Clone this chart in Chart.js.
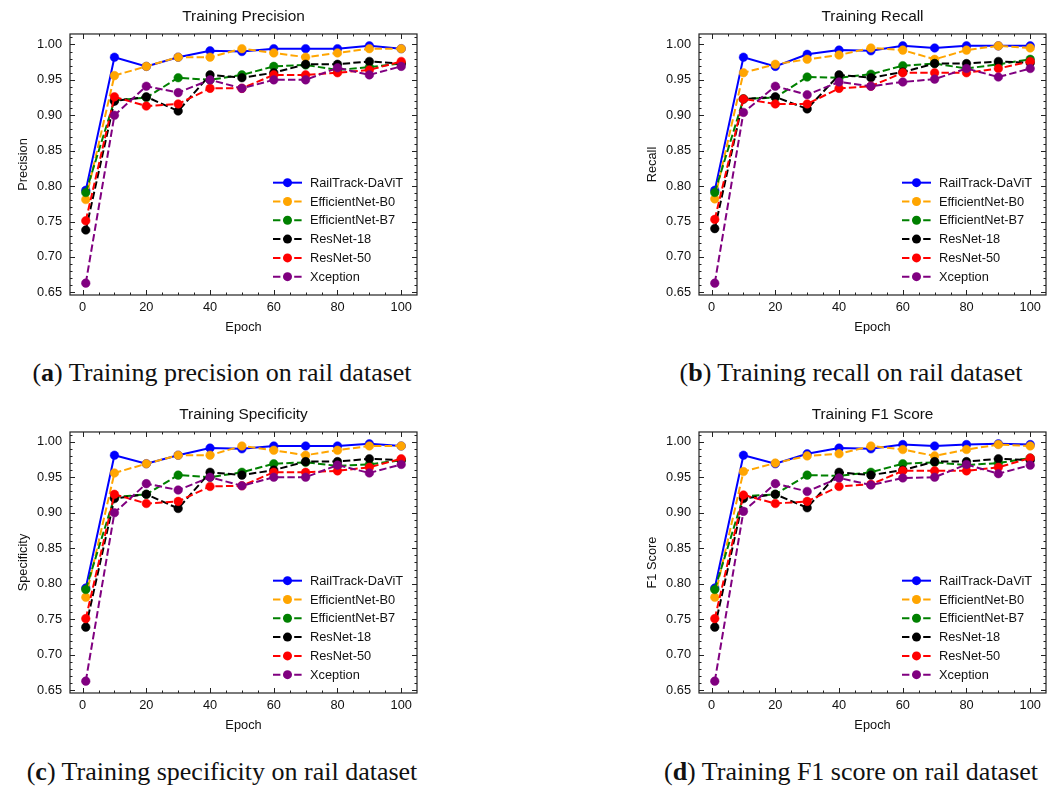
<!DOCTYPE html>
<html>
<head>
<meta charset="utf-8">
<title>Training metrics on rail dataset</title>
<script src="https://cdn.jsdelivr.net/npm/chart.js@4.4.1/dist/chart.umd.min.js"></script>
<style>
  body { margin: 0; background: #fff; width: 1057px; height: 787px; position: relative; overflow: hidden; }
  .panel { position: absolute; width: 440px; height: 340px; }
  .caption {
    position: absolute; transform: translateX(-50%); white-space: nowrap;
    font-family: "Liberation Serif", "Times New Roman", serif; font-size: 26px; line-height: 28px; color: #111;
  }
</style>
</head>
<body>
<div class="panel" style="left:0;top:0"><canvas id="precisionChart" width="440" height="340"></canvas></div>
<div class="panel" style="left:629px;top:0"><canvas id="recallChart" width="440" height="340"></canvas></div>
<div class="panel" style="left:0;top:398px"><canvas id="specificityChart" width="440" height="340"></canvas></div>
<div class="panel" style="left:629px;top:398px"><canvas id="f1Chart" width="440" height="340"></canvas></div>

<div class="caption" style="left:222px;top:359px">(<b>a</b>) Training precision on rail dataset</div>
<div class="caption" style="left:851px;top:359px">(<b>b</b>) Training recall on rail dataset</div>
<div class="caption" style="left:222px;top:758px">(<b>c</b>) Training specificity on rail dataset</div>
<div class="caption" style="left:851px;top:758px">(<b>d</b>) Training F1 score on rail dataset</div>

<script>
// epochs where metrics were logged
const epochs = [1, 10, 20, 30, 40, 50, 60, 70, 80, 90, 100];
const xTicks = [0, 20, 40, 60, 80, 100];
const yTicks = [0.65, 0.70, 0.75, 0.80, 0.85, 0.90, 0.95, 1.00];

const modelNames = ['RailTrack-DaViT', 'EfficientNet-B0', 'EfficientNet-B7', 'ResNet-18', 'ResNet-50', 'Xception'];
const modelColors = ['#0000ff', '#ffa500', '#008000', '#000000', '#ff0000', '#800080'];

// precision per model
const precisionDaViT = [0.794, 0.982, 0.969, 0.982, 0.991, 0.990, 0.994, 0.994, 0.994, 0.998, 0.994];
const precisionB0    = [0.781, 0.956, 0.969, 0.982, 0.982, 0.994, 0.988, 0.982, 0.988, 0.994, 0.994];
const precisionB7    = [0.791, 0.921, 0.925, 0.953, 0.950, 0.957, 0.969, 0.971, 0.964, 0.968, 0.973];
const precisionR18   = [0.738, 0.920, 0.926, 0.906, 0.957, 0.953, 0.960, 0.972, 0.972, 0.976, 0.973];
const precisionR50   = [0.751, 0.926, 0.913, 0.916, 0.938, 0.938, 0.957, 0.957, 0.960, 0.964, 0.976];
const precisionXcep  = [0.663, 0.900, 0.941, 0.932, 0.950, 0.938, 0.950, 0.950, 0.967, 0.957, 0.969];

// recall per model
const recallDaViT = [0.794, 0.982, 0.969, 0.986, 0.992, 0.991, 0.998, 0.995, 0.998, 0.998, 0.998];
const recallB0    = [0.782, 0.960, 0.972, 0.979, 0.985, 0.995, 0.992, 0.979, 0.992, 0.998, 0.995];
const recallB7    = [0.791, 0.923, 0.925, 0.954, 0.953, 0.958, 0.970, 0.973, 0.966, 0.972, 0.979];
const recallR18   = [0.740, 0.923, 0.926, 0.909, 0.957, 0.953, 0.961, 0.973, 0.973, 0.976, 0.974];
const recallR50   = [0.753, 0.923, 0.916, 0.916, 0.938, 0.941, 0.960, 0.960, 0.960, 0.966, 0.976];
const recallXcep  = [0.663, 0.904, 0.941, 0.929, 0.947, 0.941, 0.947, 0.951, 0.966, 0.954, 0.966];

// specificity per model
const specificityDaViT = [0.794, 0.981, 0.969, 0.981, 0.991, 0.990, 0.994, 0.994, 0.994, 0.997, 0.994];
const specificityB0    = [0.781, 0.956, 0.969, 0.981, 0.981, 0.994, 0.988, 0.981, 0.988, 0.994, 0.994];
const specificityB7    = [0.792, 0.922, 0.926, 0.953, 0.950, 0.957, 0.969, 0.971, 0.966, 0.968, 0.974];
const specificityR18   = [0.739, 0.920, 0.926, 0.906, 0.957, 0.953, 0.960, 0.972, 0.972, 0.976, 0.974];
const specificityR50   = [0.751, 0.926, 0.913, 0.916, 0.937, 0.938, 0.957, 0.957, 0.959, 0.964, 0.976];
const specificityXcep  = [0.663, 0.900, 0.941, 0.932, 0.950, 0.938, 0.950, 0.950, 0.967, 0.956, 0.968];

// F1 score per model
const f1DaViT = [0.794, 0.981, 0.969, 0.983, 0.991, 0.990, 0.996, 0.994, 0.996, 0.997, 0.996];
const f1B0    = [0.781, 0.958, 0.970, 0.980, 0.983, 0.994, 0.989, 0.980, 0.989, 0.996, 0.994];
const f1B7    = [0.792, 0.923, 0.926, 0.953, 0.952, 0.957, 0.969, 0.971, 0.967, 0.970, 0.977];
const f1R18   = [0.739, 0.920, 0.926, 0.907, 0.957, 0.953, 0.960, 0.972, 0.972, 0.976, 0.974];
const f1R50   = [0.751, 0.925, 0.913, 0.916, 0.937, 0.940, 0.959, 0.959, 0.959, 0.964, 0.977];
const f1Xcep  = [0.663, 0.902, 0.941, 0.930, 0.949, 0.939, 0.949, 0.950, 0.968, 0.955, 0.967];

Chart.defaults.font.family = '"Liberation Sans", Arial, sans-serif';
Chart.defaults.font.size = 12.8;
Chart.defaults.color = '#111';

// box around the plot with inward major/minor ticks on every side
const frameTicks = {
  id: 'frameTicks',
  afterDraw(chart) {
    const { ctx, chartArea: a, scales: { x, y } } = chart;
    ctx.save();
    ctx.strokeStyle = '#222';
    ctx.lineWidth = 1;
    ctx.beginPath();
    for (let v = 0; v <= 100; v += 5) {
      const px = Math.round(x.getPixelForValue(v)) + 0.5;
      const len = v % 20 === 0 ? 5 : 2.5;
      ctx.moveTo(px, a.bottom); ctx.lineTo(px, a.bottom - len);
      ctx.moveTo(px, a.top); ctx.lineTo(px, a.top + len);
    }
    for (let k = 60; k <= 102; k++) {
      const v = k / 100;
      if (v < y.min || v > y.max) continue;
      const py = Math.round(y.getPixelForValue(v)) + 0.5;
      const len = k % 5 === 0 ? 5 : 2.5;
      ctx.moveTo(a.left, py); ctx.lineTo(a.left + len, py);
      ctx.moveTo(a.right, py); ctx.lineTo(a.right - len, py);
    }
    ctx.stroke();
    ctx.lineWidth = 1.2;
    ctx.strokeRect(a.left, a.top, a.right - a.left, a.bottom - a.top);
    ctx.restore();
  }
};

// legend drawn as line + marker samples, like the plotted series
const lineLegend = {
  id: 'lineLegend',
  afterDraw(chart) {
    const { ctx, chartArea: a } = chart;
    const x0 = a.right - 144, x1 = a.right - 115, tx = a.right - 107;
    ctx.save();
    ctx.font = '12.8px "Liberation Sans", Arial, sans-serif';
    ctx.textBaseline = 'middle';
    chart.data.datasets.forEach((ds, i) => {
      const yy = a.top + 148.7 + i * 18.8;
      ctx.strokeStyle = ds.borderColor;
      ctx.lineWidth = ds.borderWidth;
      ctx.setLineDash(ds.borderDash || []);
      ctx.beginPath();
      ctx.moveTo(x0, yy); ctx.lineTo(x1, yy);
      ctx.stroke();
      ctx.setLineDash([]);
      ctx.fillStyle = ds.borderColor;
      ctx.beginPath();
      ctx.arc((x0 + x1) / 2, yy, 4.5, 0, Math.PI * 2);
      ctx.fill();
      ctx.fillStyle = '#111';
      ctx.fillText(ds.label, tx, yy + 0.5);
    });
    ctx.restore();
  }
};

function makeChart(id, title, yLabel, series) {
  const all = series.flat();
  const lo = Math.min(...all), hi = Math.max(...all);
  const pad = (hi - lo) * 0.05;
  return new Chart(document.getElementById(id), {
    type: 'line',
    data: {
      datasets: series.map((vals, i) => ({
        label: modelNames[i],
        data: vals.map((v, j) => ({ x: epochs[j], y: v })),
        borderColor: modelColors[i],
        backgroundColor: modelColors[i],
        borderWidth: 2,
        borderDash: i === 0 ? [] : [7.4, 3.2],
        pointRadius: 4.3,
        pointBorderWidth: 0.5,
        pointBorderColor: modelColors[i],
        pointBackgroundColor: modelColors[i],
        tension: 0,
        order: series.length - i
      }))
    },
    options: {
      responsive: false,
      animation: false,
      layout: { padding: { left: 0, right: 23, top: 0, bottom: 0 } },
      plugins: {
        legend: { display: false },
        tooltip: { enabled: false },
        title: {
          display: true, text: title, fullSize: false, color: '#111',
          font: { size: 15.4, weight: 'normal' },
          padding: { top: 8, bottom: 7.5 }
        }
      },
      scales: {
        x: {
          type: 'linear', min: -3.95, max: 104.95,
          afterBuildTicks: s => { s.ticks = xTicks.map(v => ({ value: v })); },
          afterFit: s => { s.height = 45; },
          grid: { display: false, drawTicks: false },
          border: { display: false },
          ticks: { padding: 4.3, maxRotation: 0, autoSkip: false },
          title: { display: true, text: 'Epoch', padding: { top: 0, bottom: 5.3 } }
        },
        y: {
          min: lo - pad, max: hi + pad,
          afterBuildTicks: s => { s.ticks = yTicks.map(v => ({ value: v })); },
          afterFit: s => { s.width = 70; },
          grid: { display: false, drawTicks: false },
          border: { display: false },
          ticks: { padding: 8, callback: v => Number(v).toFixed(2) },
          title: { display: true, text: yLabel, padding: { top: 15.3, bottom: 0 } }
        }
      }
    },
    plugins: [frameTicks, lineLegend]
  });
}

makeChart('precisionChart', 'Training Precision', 'Precision',
  [precisionDaViT, precisionB0, precisionB7, precisionR18, precisionR50, precisionXcep]);
makeChart('recallChart', 'Training Recall', 'Recall',
  [recallDaViT, recallB0, recallB7, recallR18, recallR50, recallXcep]);
makeChart('specificityChart', 'Training Specificity', 'Specificity',
  [specificityDaViT, specificityB0, specificityB7, specificityR18, specificityR50, specificityXcep]);
makeChart('f1Chart', 'Training F1 Score', 'F1 Score',
  [f1DaViT, f1B0, f1B7, f1R18, f1R50, f1Xcep]);
</script>
</body>
</html>
